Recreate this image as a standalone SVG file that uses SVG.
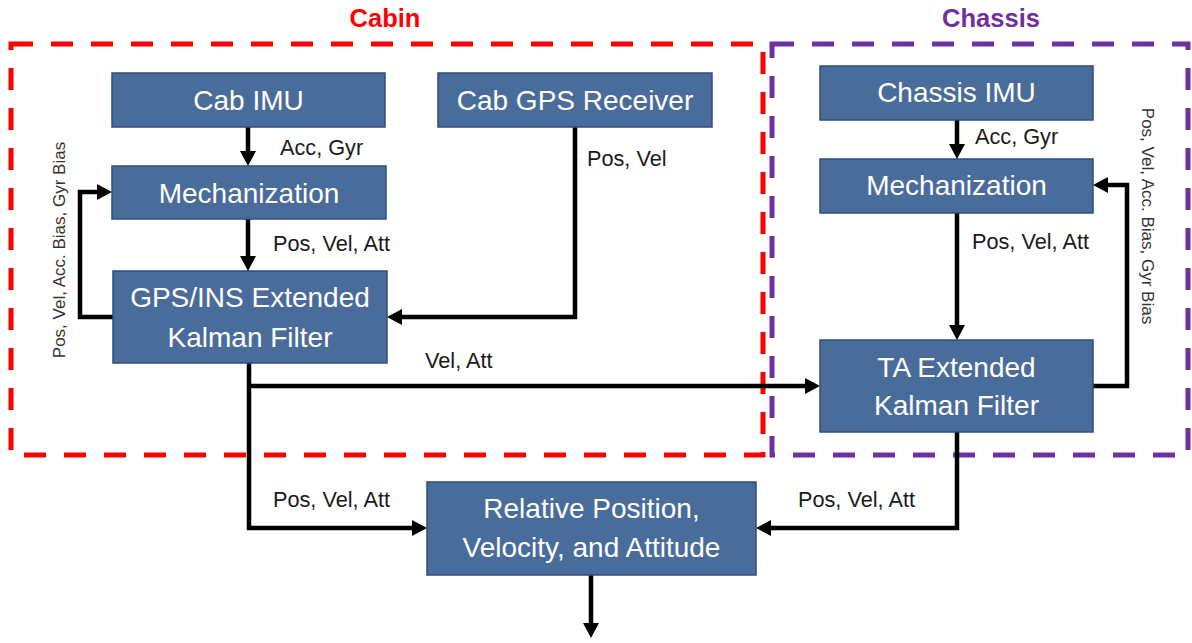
<svg xmlns="http://www.w3.org/2000/svg" width="1192" height="643" viewBox="0 0 1192 643">
<defs>
<style>
.box{fill:#4A6C9B;stroke:#2F4E7A;stroke-width:1.5}
.bt{font-family:"Liberation Sans",Arial,sans-serif;font-size:28px;fill:#ffffff;text-anchor:middle}
.lbl{font-family:"Liberation Sans",Arial,sans-serif;font-size:21.7px;fill:#1a1a1a}
.rot{font-family:"Liberation Sans",Arial,sans-serif;font-size:17px;fill:#333333;text-anchor:middle}
.title{font-family:"Liberation Sans",Arial,sans-serif;font-size:25.5px;font-weight:bold;text-anchor:middle}
.con{fill:none;stroke:#000000;stroke-width:4.5;stroke-linejoin:miter}
.arr{marker-end:url(#ah)}
.dash{fill:none;stroke-width:5;stroke-dasharray:22 18}
</style>
<marker id="ah" viewBox="0 0 15 16" markerWidth="15" markerHeight="16" refX="5" refY="8" orient="auto" markerUnits="userSpaceOnUse">
<path d="M0,0 L15,8 L0,16 Z" fill="#000000"/>
</marker>
</defs>
<rect width="1192" height="643" fill="#ffffff"/>

<g id="cabin-region">
<rect class="dash" x="11" y="44" width="752" height="411" stroke="#FF0000"/>
<text class="title" x="385" y="27" fill="#FF0000">Cabin</text>
</g>
<g id="chassis-region">
<rect class="dash" x="772" y="44" width="416" height="411" stroke="#7030A0"/>
<text class="title" x="991" y="27" fill="#7030A0">Chassis</text>
</g>

<g id="connectors">
<path class="con arr" d="M248,127 V156"/>
<path class="con arr" d="M248,219 V261"/>
<path class="con arr" d="M113,317 H80 V192 H102"/>
<path class="con arr" d="M575,127 V317 H397"/>
<path class="con arr" d="M249,363 V528 H417"/>
<path class="con arr" d="M249,386 H810"/>
<path class="con arr" d="M957,120 V149"/>
<path class="con arr" d="M957,213 V330"/>
<path class="con arr" d="M1093,386 H1127 V185 H1103"/>
<path class="con arr" d="M957,432 V528 H766"/>
<path class="con arr" d="M591,575 V628"/>
<text class="lbl" x="280" y="155">Acc, Gyr</text>
<text class="lbl" x="273" y="251">Pos, Vel, Att</text>
<text class="lbl" x="587" y="166">Pos, Vel</text>
<text class="lbl" x="425" y="368">Vel, Att</text>
<text class="lbl" x="273" y="507">Pos, Vel, Att</text>
<text class="lbl" x="798" y="507">Pos, Vel, Att</text>
<text class="lbl" x="975" y="144">Acc, Gyr</text>
<text class="lbl" x="972" y="249">Pos, Vel, Att</text>
<text class="rot" transform="translate(65,250) rotate(-90)">Pos, Vel, Acc. Bias, Gyr Bias</text>
<text class="rot" transform="translate(1142,216) rotate(90)">Pos, Vel, Acc. Bias, Gyr Bias</text>
</g>

<g id="cab-imu">
<rect class="box" x="112" y="73" width="273" height="54"/>
<text class="bt" x="248.5" y="110">Cab IMU</text>
</g>
<g id="cab-gps">
<rect class="box" x="438" y="73" width="274" height="54"/>
<text class="bt" x="575" y="110">Cab GPS Receiver</text>
</g>
<g id="cab-mech">
<rect class="box" x="112" y="166" width="274" height="53"/>
<text class="bt" x="249" y="203">Mechanization</text>
</g>
<g id="gps-ins-ekf">
<rect class="box" x="113" y="271" width="274" height="92"/>
<text class="bt" x="250" y="307">GPS/INS Extended</text>
<text class="bt" x="250" y="347">Kalman Filter</text>
</g>
<g id="chassis-imu">
<rect class="box" x="820" y="66" width="273" height="54"/>
<text class="bt" x="956.5" y="102">Chassis IMU</text>
</g>
<g id="chassis-mech">
<rect class="box" x="820" y="159" width="273" height="54"/>
<text class="bt" x="956.5" y="195">Mechanization</text>
</g>
<g id="ta-ekf">
<rect class="box" x="820" y="340" width="273" height="92"/>
<text class="bt" x="956.5" y="377">TA Extended</text>
<text class="bt" x="956.5" y="415">Kalman Filter</text>
</g>
<g id="relative">
<rect class="box" x="427" y="482" width="329" height="93"/>
<text class="bt" x="591.5" y="518">Relative Position,</text>
<text class="bt" x="591.5" y="557">Velocity, and Attitude</text>
</g>
</svg>
